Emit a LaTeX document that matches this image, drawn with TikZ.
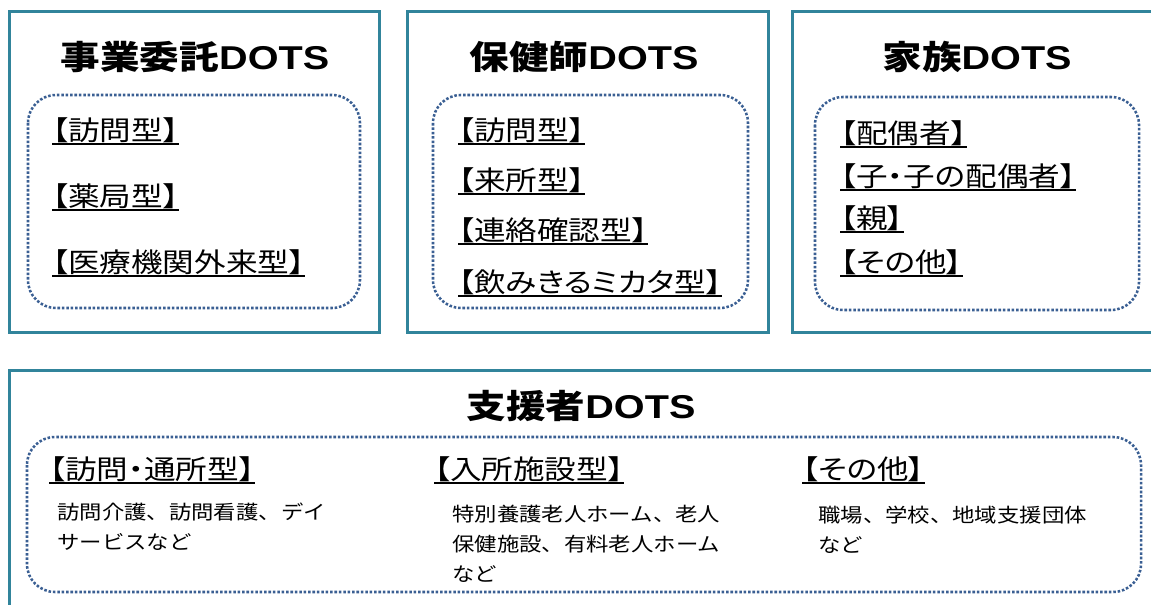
\documentclass[tikz,border=0pt]{standalone}
\usepackage{fontspec}
\newfontfamily\lblfont{Noto Sans CJK JP}[FakeStretch=1.17,RawFeature=+palt]
\newfontfamily\descfont{Noto Sans CJK JP}[FakeStretch=1.15]
\newfontfamily\ttlfont{Noto Sans CJK JP}[FakeStretch=1.2]
\newfontfamily\latinfont{Liberation Sans}[FakeStretch=1.2]
\definecolor{framecol}{HTML}{31849B}
\definecolor{dotcol}{HTML}{3A5F93}
\begin{document}
\begin{tikzpicture}[x=0.75pt,y=-0.75pt,
  boxframe/.style={draw=framecol,line width=2.25pt},
  dotbox/.style={draw=dotcol,line width=1.9pt,dash pattern=on 1.9pt off 1.4pt,rounded corners=21pt},
  ttl/.style={inner sep=0pt,font=\ttlfont\bfseries\fontsize{24.75pt}{28pt}\selectfont},
  lbl/.style={inner sep=0pt,anchor=west,font=\lblfont\fontsize{20.25pt}{24pt}\selectfont,
    append after command={([yshift=-1pt]\tikzlastnode.south west) edge[draw=black,line width=1.1pt] ([yshift=-1pt]\tikzlastnode.south east)}},
  desc/.style={inner sep=0pt,anchor=north west,align=left,font=\descfont\fontsize{14.6pt}{22.5pt}\selectfont}
]
\useasboundingbox (0,0) rectangle (1151,605);
\clip (0,0) rectangle (1151,605);
\fill[white] (0,0) rectangle (1151,605);

% frames
\draw[boxframe] (9,12) rectangle (379,333);
\draw[boxframe] (407,12) rectangle (768,333);
\draw[boxframe] (792,12) rectangle (1165,333);
\draw[boxframe] (9,370) rectangle (1165,620);

% dotted inner boxes
\draw[dotbox] (28,95) rectangle (360,308);
\draw[dotbox] (433,95) rectangle (748,308);
\draw[dotbox] (815,97) rectangle (1139,310);
\draw[dotbox] (27,437) rectangle (1141,592);

% titles
\node[ttl] (t1) at (195,57) {事業委託{\latinfont\bfseries DOTS}};
\node[ttl] (t2) at (584,57) {保健師{\latinfont\bfseries DOTS}};
\node[ttl] (t3) at (977,57) {家族{\latinfont\bfseries DOTS}};
\node[ttl] (t4) at (581,406) {支援者{\latinfont\bfseries DOTS}};

% box 1
\node[lbl] (a1) at (52,130) {【訪問型】};
\node[lbl] (a2) at (52,196) {【薬局型】};
\node[lbl] (a3) at (52,262) {【医療機関外来型】};

% box 2
\node[lbl] (b1) at (458,130) {【訪問型】};
\node[lbl] (b2) at (458,180) {【来所型】};
\node[lbl] (b3) at (458,230) {【連絡確認型】};
\node[lbl] (b4) at (458,282) {【飲みきるミカタ型】};

% box 3
\node[lbl] (c1) at (840,133) {【配偶者】};
\node[lbl] (c2) at (840,176) {【子・子の配偶者】};
\node[lbl] (c3) at (840,218) {【親】};
\node[lbl] (c4) at (840,262) {【その他】};

% bottom
\node[lbl] (d1) at (49,469) {【訪問・通所型】};
\node[lbl] (d2) at (434,469) {【入所施設型】};
\node[lbl] (d3) at (802,469) {【その他】};

\node[desc] (e1) at (57,503) {訪問介護、訪問看護、デイ\\サービスなど};
\node[desc] (e2) at (452,505) {特別養護老人ホーム、老人\\保健施設、有料老人ホーム\\など};
\node[desc] (e3) at (818,506) {職場、学校、地域支援団体\\など};
\end{tikzpicture}
\end{document}
